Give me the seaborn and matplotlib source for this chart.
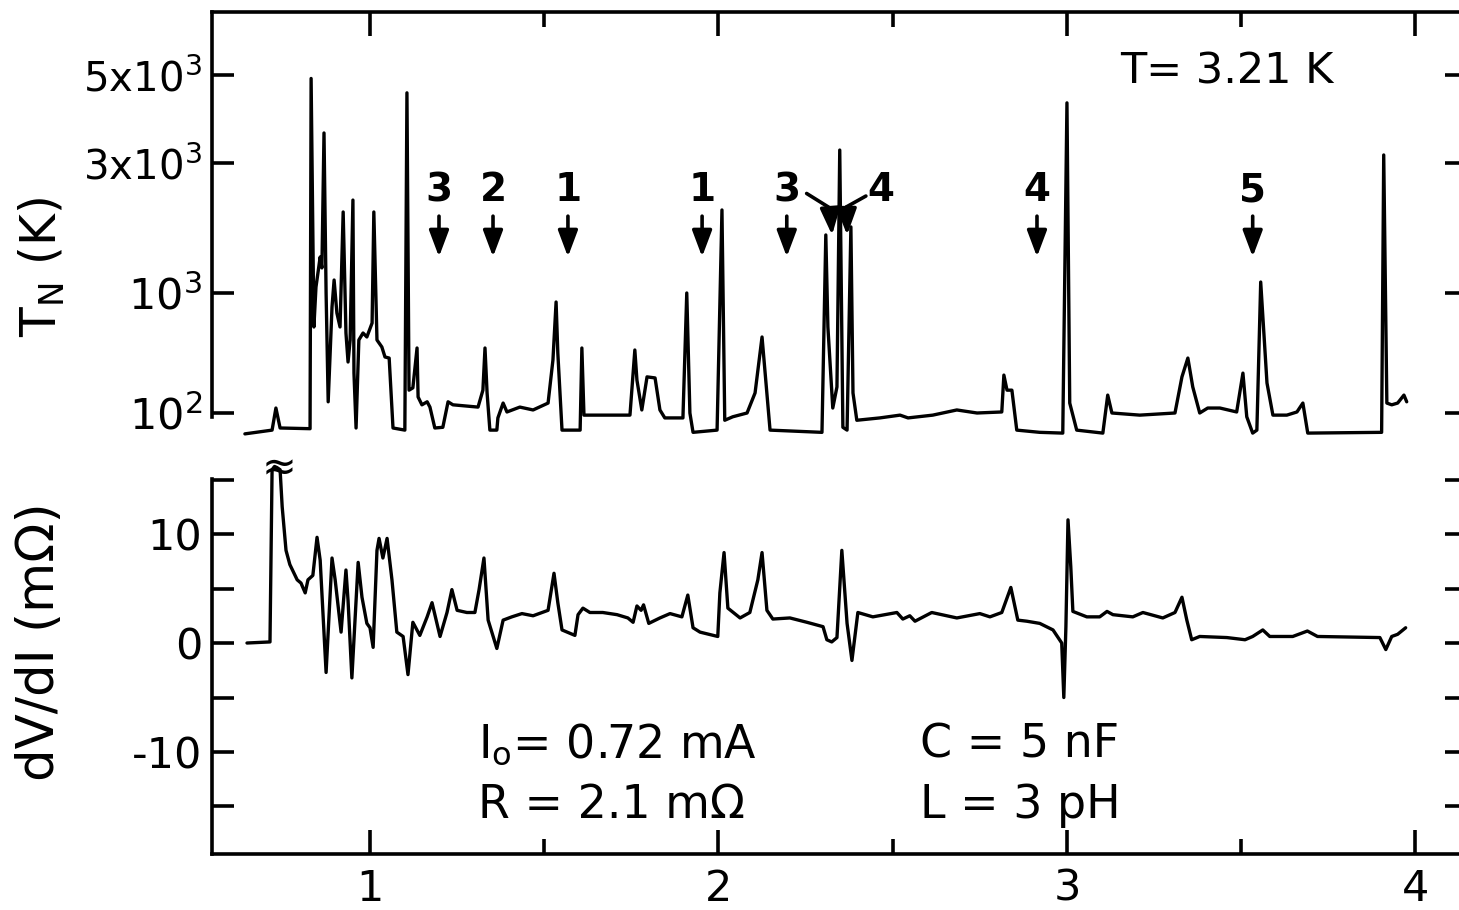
import numpy as np
import matplotlib
matplotlib.use("Agg")
import matplotlib.pyplot as plt
import matplotlib.transforms as mtransforms
from matplotlib.ticker import MultipleLocator, NullLocator
import seaborn as sns

# ---------------- data ----------------
# bias current (mA) and noise temperature T_N (K), upper trace
tn_current = [
    0.641, 0.719, 0.730, 0.742, 0.828, 0.831, 0.839, 0.845, 0.857, 0.862,
    0.868, 0.874, 0.880, 0.891, 0.897, 0.905, 0.914, 0.923, 0.931, 0.937,
    0.943, 0.951, 0.954, 0.960, 0.968, 0.980, 0.991, 1.006, 1.011, 1.020,
    1.034, 1.043, 1.055, 1.066, 1.100, 1.106, 1.112, 1.123, 1.135, 1.138,
    1.149, 1.164, 1.172, 1.186, 1.209, 1.224, 1.238, 1.310, 1.324, 1.330,
    1.336, 1.344, 1.364, 1.367, 1.382, 1.393, 1.430, 1.468, 1.511, 1.525,
    1.534, 1.539, 1.551, 1.603, 1.608, 1.614, 1.746, 1.760, 1.766, 1.780,
    1.795, 1.818, 1.832, 1.846, 1.898, 1.909, 1.918, 1.927, 1.996, 2.010,
    2.018, 2.041, 2.082, 2.105, 2.125, 2.139, 2.148, 2.297, 2.308, 2.314,
    2.328, 2.340, 2.348, 2.357, 2.369, 2.380, 2.386, 2.397, 2.463, 2.521,
    2.544, 2.615, 2.684, 2.742, 2.813, 2.819, 2.828, 2.842, 2.856, 2.922,
    2.988, 3.000, 3.008, 3.028, 3.103, 3.117, 3.129, 3.209, 3.310, 3.330,
    3.347, 3.361, 3.381, 3.404, 3.439, 3.487, 3.505, 3.516, 3.533, 3.545,
    3.556, 3.574, 3.591, 3.631, 3.660, 3.677, 3.691, 3.903, 3.909, 3.918,
    3.932, 3.949, 3.967, 3.975,
]
tn_kelvin = [
    67, 72, 110, 75, 74, 4900, 521, 1052, 1356, 1236,
    3571, 1000, 124, 764, 1116, 681, 521, 1983, 464, 266,
    406, 2193, 215, 75, 406, 464, 430, 562, 1983, 406,
    355, 293, 287, 75, 72, 4508, 155, 162, 348, 136,
    117, 124, 112, 75, 76, 124, 117, 112, 155, 348,
    147, 72, 72, 91, 121, 102, 112, 106, 121, 277,
    841, 316, 72, 72, 348, 96, 96, 335, 188, 106,
    200, 196, 106, 91, 91, 1000, 100, 69, 72, 2017,
    87, 93, 100, 147, 430, 147, 72, 69, 1633, 521,
    110, 165, 3234, 76, 72, 1748, 147, 87, 91, 96,
    91, 96, 106, 100, 102, 207, 155, 155, 72, 69,
    68, 4253, 121, 72, 68, 141, 100, 96, 100, 200,
    287, 165, 100, 110, 110, 102, 215, 93, 68, 72,
    1097, 178, 96, 96, 102, 121, 68, 69, 3143, 121,
    117, 121, 141, 124,
]

# bias current (mA) and differential resistance dV/dI (mOhm), lower trace
dvdi_current = [
    0.647, 0.713, 0.719, 0.726, 0.733, 0.742, 0.748, 0.759, 0.770, 0.791,
    0.802, 0.814, 0.822, 0.836, 0.848, 0.857, 0.874, 0.891, 0.900, 0.917,
    0.931, 0.937, 0.948, 0.966, 0.977, 0.991, 1.000, 1.009, 1.020, 1.026,
    1.037, 1.049, 1.063, 1.077, 1.095, 1.109, 1.123, 1.143, 1.164, 1.178,
    1.201, 1.221, 1.235, 1.250, 1.278, 1.301, 1.313, 1.327, 1.339, 1.364,
    1.382, 1.407, 1.436, 1.468, 1.511, 1.528, 1.539, 1.551, 1.588, 1.597,
    1.611, 1.631, 1.668, 1.709, 1.740, 1.755, 1.766, 1.778, 1.785, 1.800,
    1.832, 1.861, 1.895, 1.912, 1.927, 1.947, 1.998, 2.004, 2.016, 2.027,
    2.062, 2.090, 2.113, 2.125, 2.139, 2.156, 2.205, 2.254, 2.300, 2.311,
    2.325, 2.340, 2.354, 2.369, 2.383, 2.400, 2.443, 2.512, 2.529, 2.549,
    2.564, 2.612, 2.684, 2.750, 2.779, 2.813, 2.839, 2.859, 2.885, 2.922,
    2.960, 2.985, 2.991, 2.997, 3.003, 3.011, 3.017, 3.057, 3.094, 3.115,
    3.132, 3.189, 3.218, 3.275, 3.310, 3.330, 3.344, 3.358, 3.381, 3.459,
    3.511, 3.533, 3.562, 3.582, 3.648, 3.690, 3.719, 3.898, 3.915, 3.932,
    3.949, 3.972,
]
dvdi_mohm = [
    0.0, 0.1, 15.9, 16.2, 16.1, 15.9, 12.5, 8.5, 7.2, 5.8,
    5.5, 4.6, 5.8, 6.2, 9.7, 7.6, -2.7, 7.8, 5.8, 1.0,
    6.7, 3.9, -3.2, 7.4, 4.2, 1.8, 1.4, -0.4, 8.5, 9.6,
    7.8, 9.6, 5.8, 1.0, 0.6, -2.9, 1.9, 0.7, 2.4, 3.7,
    0.6, 2.8, 4.9, 3.0, 2.8, 2.8, 4.9, 7.8, 2.1, -0.5,
    2.1, 2.4, 2.7, 2.5, 3.0, 6.4, 3.7, 1.2, 0.7, 2.6,
    3.2, 2.8, 2.8, 2.6, 2.3, 1.9, 3.4, 3.0, 3.5, 1.8,
    2.3, 2.7, 2.4, 4.4, 1.4, 1.0, 0.6, 4.6, 8.3, 3.2,
    2.3, 2.8, 5.8, 8.3, 3.0, 2.2, 2.3, 1.9, 1.5, 0.3,
    0.1, 0.5, 8.5, 1.8, -1.6, 2.8, 2.4, 2.8, 2.2, 2.5,
    2.0, 2.8, 2.3, 2.7, 2.4, 2.8, 5.1, 2.1, 2.0, 1.8,
    1.2, 0.0, -5.0, 1.5, 11.3, 7.0, 2.9, 2.4, 2.4, 2.9,
    2.6, 2.4, 2.8, 2.3, 2.8, 4.2, 2.1, 0.3, 0.6, 0.5,
    0.3, 0.6, 1.2, 0.6, 0.6, 1.1, 0.6, 0.5, -0.6, 0.6,
    0.8, 1.4,
]

# peak markers (arrows) in the upper panel
peak_arrow_current = [1.198, 1.353, 1.568, 1.953, 2.196, 2.914, 3.533]
peak_arrow_labels = ["3", "2", "1", "1", "3", "4", "5"]
bent_arrow_labels = ["3", "4"]
bent_arrow_peaks = [2.326, 2.369]

tn_ticks = [100, 1000, 3000, 5000]
tn_ticklabels = [r"$10^{2}$", r"$10^{3}$", r"3x$10^{3}$", r"5x$10^{3}$"]
dvdi_ticks = [-15, -10, -5, 0, 5, 10, 15]
dvdi_ticklabels = ["", "-10", "", "0", "", "10", ""]
current_ticks = [1, 2, 3, 4]
current_ticklabels = ["1", "2", "3", "4"]

# ---------------- style ----------------
sns.set_style("white")
INK = "black"
plt.rcParams["font.family"] = ["DejaVu Sans"]
plt.rcParams["mathtext.fontset"] = "dejavusans"
for key in ("text.color", "axes.labelcolor", "xtick.color", "ytick.color",
            "axes.edgecolor"):
    plt.rcParams[key] = INK

# non-uniform T_N axis of the original (decades are not equally spaced)
_LOGS = [-10.0, 2.0, 3.0, np.log10(3000.0), np.log10(5000.0), 10.0]
_POS = [-1440.0, 0.0, 120.0, 250.0, 338.0,
        338.0 + (10.0 - np.log10(5000.0)) * 88.0 / np.log10(5.0 / 3.0)]


def tn_fwd(v):
    v = np.asarray(v, dtype=float)
    return np.interp(np.log10(np.clip(v, 1e-10, None)), _LOGS, _POS)


def tn_inv(p):
    return 10.0 ** np.interp(np.asarray(p, dtype=float), _POS, _LOGS)


# ---------------- layout ----------------
W, H = 1459, 910
fig = plt.figure(figsize=(W / 100, H / 100), dpi=100)


def rect(l, t, r, b):
    return [l / W, 1 - b / H, (r - l) / W, (b - t) / H]


ax_t = fig.add_axes(rect(212, 12, 1467, 440))
ax_b = fig.add_axes(rect(212, 479, 1467, 854))
XLIM = (0.5466, 4.148)
LW = 2.4

# ---------------- traces ----------------
sns.lineplot(x=tn_current, y=tn_kelvin, ax=ax_t, color=INK, linewidth=LW,
             sort=False, estimator=None, errorbar=None,
             solid_joinstyle="round")
sns.lineplot(x=dvdi_current, y=dvdi_mohm, ax=ax_b, color=INK, linewidth=LW,
             sort=False, estimator=None, errorbar=None, clip_on=False,
             solid_joinstyle="round")

# upper axes
ax_t.set_yscale("function", functions=(tn_fwd, tn_inv))
ylim_t = (float(tn_inv(-27)), float(tn_inv(401)))
ax_t.set_ylim(*ylim_t)
ax_t.set_xlim(*XLIM)
ax_t.set_yticks(tn_ticks, labels=tn_ticklabels)
ax_t.yaxis.set_minor_locator(NullLocator())
ax_t.set_xticks(current_ticks)
ax_t.xaxis.set_minor_locator(MultipleLocator(0.5))
for s in ("bottom", "right"):
    ax_t.spines[s].set_visible(False)
for s in ("left", "top"):
    ax_t.spines[s].set_linewidth(2.6)
    ax_t.spines[s].set_color(INK)
ax_t.spines["left"].set_bounds(float(tn_inv(-4)), ylim_t[1])
ax_t.tick_params(axis="y", which="major", direction="in", length=16, width=2.6,
                 left=True, right=True, labelleft=True, labelsize=31, pad=7,
                 color=INK, labelcolor=INK)
ax_t.tick_params(axis="x", which="major", direction="in", length=17, width=2.6,
                 top=True, bottom=False, labeltop=False, labelbottom=False,
                 color=INK)
ax_t.tick_params(axis="x", which="minor", direction="in", length=11, width=2.6,
                 top=True, bottom=False, color=INK)
for lab in ax_t.get_yticklabels()[2:]:
    lab.set_fontsize(29)
ax_t.set_xlabel("")
ax_t.set_ylabel("")
ax_t.patch.set_alpha(0)

# lower axes
ax_b.set_xlim(*XLIM)
ax_b.set_ylim(-19.36, 15.05)
ax_b.set_yticks(dvdi_ticks, labels=dvdi_ticklabels)
ax_b.set_xticks(current_ticks, labels=current_ticklabels)
ax_b.xaxis.set_minor_locator(MultipleLocator(0.5))
for s in ("top", "right"):
    ax_b.spines[s].set_visible(False)
for s in ("left", "bottom"):
    ax_b.spines[s].set_linewidth(2.6)
    ax_b.spines[s].set_color(INK)
ax_b.tick_params(axis="y", which="major", direction="in", length=16, width=2.6,
                 left=True, right=True, labelsize=31, pad=7,
                 color=INK, labelcolor=INK)
ax_b.tick_params(axis="x", which="major", direction="in", length=17, width=2.6,
                 bottom=True, top=False, labelsize=31, pad=10,
                 color=INK, labelcolor=INK)
ax_b.tick_params(axis="x", which="minor", direction="in", length=11, width=2.6,
                 bottom=True, top=False, color=INK)
ax_b.set_xlabel("")
ax_b.set_ylabel("")
ax_b.patch.set_alpha(0)

# off-scale break mark on the first dV/dI peak
ax_b.text(0.739, 16.0, "\u2248", ha="center", va="center", fontsize=30,
          color=INK, clip_on=False)

# ---------------- peak arrows ----------------
trans = mtransforms.blended_transform_factory(ax_t.transData, ax_t.transAxes)
AP = dict(arrowstyle="-|>,head_length=0.8,head_width=0.3", color=INK, lw=2.6,
          shrinkA=0, shrinkB=0, mutation_scale=20)
LABEL_KW = dict(transform=trans, ha="center", va="center", fontsize=28,
                color=INK, fontweight="bold")
for xv, lab in zip(peak_arrow_current, peak_arrow_labels):
    ax_t.text(xv, 0.583, lab, **LABEL_KW)
    ax_t.annotate("", xy=(xv, 0.428), xytext=(xv, 0.523), xycoords=trans,
                  textcoords=trans, arrowprops=AP)

# bent arrows from "3" and "4" to the close pair of peaks
bent_geometry = {  # (label x or None if shared, start, bend)
    "3": (None, (2.253, 0.576), (2.320, 0.542)),
    "4": (2.466, (2.423, 0.570), (2.368, 0.545)),
}
for lab, tip in zip(bent_arrow_labels, bent_arrow_peaks):
    lx, p0, p1 = bent_geometry[lab]
    if lx is not None:
        ax_t.text(lx, 0.583, lab, **LABEL_KW)
    ax_t.plot([p0[0], p1[0]], [p0[1], p1[1]], transform=trans, color=INK,
              lw=2.6, solid_capstyle="round", clip_on=False)
    ax_t.annotate("", xy=(tip, 0.479), xytext=p1, xycoords=trans,
                  textcoords=trans, arrowprops=AP)

# ---------------- text ----------------
fig.text(1227 / W, 1 - 71 / H, "T= 3.21 K", ha="center", va="center",
         fontsize=31, color=INK)
fig.text(478 / W, 1 - 745 / H, r"I$_\mathregular{o}$= 0.72 mA", ha="left",
         va="center", fontsize=33, color=INK)
fig.text(478 / W, 1 - 805 / H, "R = 2.1 m\u03a9", ha="left", va="center",
         fontsize=33, color=INK)
fig.text(920 / W, 1 - 745 / H, "C = 5 nF", ha="left", va="center",
         fontsize=33, color=INK)
fig.text(920 / W, 1 - 805 / H, "L = 3 pH", ha="left", va="center",
         fontsize=33, color=INK)
fig.text(42 / W, 1 - 267 / H, r"T$_\mathregular{N}$ (K)", rotation=90,
         ha="center", va="center", fontsize=35, color=INK)
fig.text(40 / W, 1 - 642 / H, "dV/dI (m\u03a9)", rotation=90,
         ha="center", va="center", fontsize=37, color=INK)

fig.savefig("out.png", dpi=100, facecolor="white")
